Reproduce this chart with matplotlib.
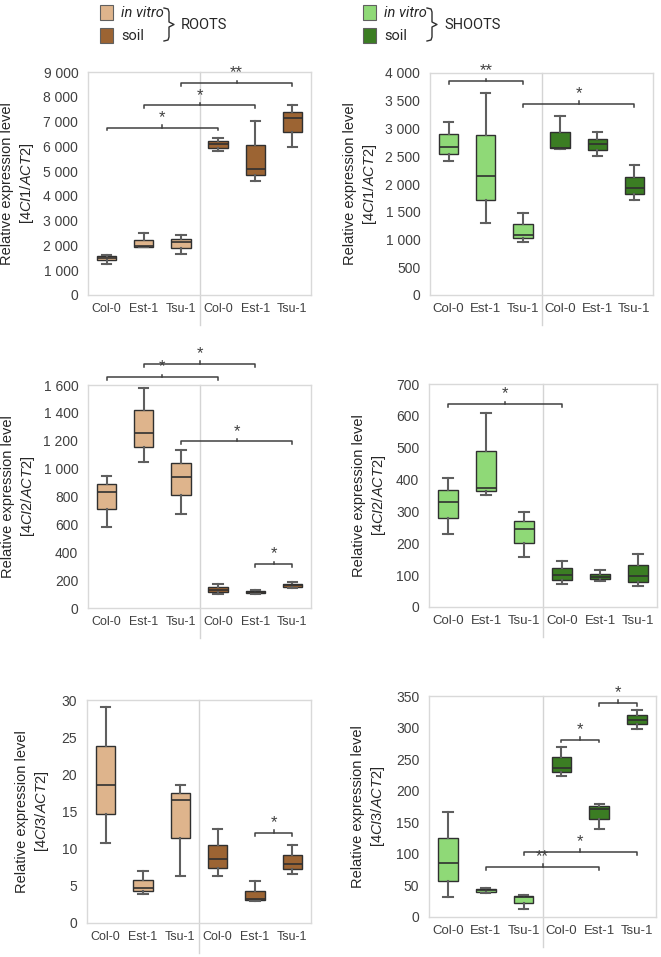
import matplotlib.pyplot as plt
from matplotlib.patches import Rectangle
from matplotlib.lines import Line2D
from matplotlib.ticker import FuncFormatter

plt.rcParams["font.family"] = ["Liberation Sans", "DejaVu Sans"]
plt.rcParams["mathtext.fontset"] = "custom"
plt.rcParams["mathtext.it"] = "Liberation Sans:italic"
plt.rcParams["mathtext.rm"] = "Liberation Sans"

W, H = 661, 957

strains = ["Col-0", "Est-1", "Tsu-1", "Col-0", "Est-1", "Tsu-1"]

# each box: whisker low, q1, median, q3, whisker high
# first three in vitro, last three soil
ci1_roots = [[1250, 1400, 1500, 1580, 1620], [1930, 1950, 1960, 2230, 2520],
             [1650, 1900, 2130, 2270, 2430], [5830, 5950, 6080, 6200, 6340],
             [4600, 4850, 5100, 6060, 7040], [5980, 6580, 7160, 7400, 7650]]
ci1_shoots = [[2420, 2545, 2675, 2895, 3115], [1300, 1710, 2140, 2890, 3640],
              [960, 1025, 1080, 1275, 1470], [2630, 2640, 2655, 2940, 3225],
              [2510, 2620, 2715, 2815, 2930], [1720, 1820, 1920, 2135, 2345]]
ci2_roots = [[583, 707, 832, 887, 944], [1049, 1152, 1255, 1420, 1580],
             [671, 808, 940, 1037, 1135], [100, 112, 130, 148, 170],
             [100, 105, 112, 120, 126], [145, 152, 162, 172, 188]]
ci2_shoots = [[228, 279, 331, 368, 406], [352, 363, 373, 490, 608],
              [156, 201, 245, 271, 297], [73, 86, 102, 123, 143],
              [82, 87, 93, 103, 115], [67, 80, 97, 132, 167]]
ci3_roots = [[10.7, 14.6, 18.5, 23.8, 29.1], [3.95, 4.27, 4.67, 5.75, 6.96],
             [6.3, 11.4, 16.5, 17.5, 18.5], [6.3, 7.4, 8.6, 10.5, 12.6],
             [3.0, 3.05, 3.2, 4.36, 5.6], [6.56, 7.2, 7.9, 9.2, 10.55]]
ci3_shoots = [[31, 57, 85.5, 125, 166], [38, 40, 42, 44, 46],
              [13, 22, 32, 33.5, 34.5], [223, 229, 236.5, 253, 269],
              [139, 155, 171, 176, 179.5], [297, 305, 312.6, 320.5, 328]]

# significance brackets: (from group, to group, height, label)
br_ci1_roots = [(1, 4, 6750, "*"), (2, 5, 7650, "*"), (3, 6, 8540, "**")]
br_ci1_shoots = [(1, 3, 3850, "**"), (3, 6, 3440, "*")]
br_ci2_roots = [(1, 4, 1655, "*"), (2, 5, 1750, "*"), (3, 6, 1195, "*"), (5, 6, 313, "*")]
br_ci2_shoots = [(1, 4, 636, "*")]
br_ci3_roots = [(5, 6, 12.1, "*")]
br_ci3_shoots = [(5, 6, 339, "*"), (4, 5, 281, "*"), (3, 6, 103, "*"), (2, 5, 79, "**")]

roots_cols = ["#deb48c", "#9c6433"]
shoots_cols = ["#8fd977", "#3b7d23"]

# data, brackets, y max, y step, gene, colours, axes box in px, ylabel offset px, x label size
panels = [
    (ci1_roots, br_ci1_roots, 9000, 1000, "4CI1", roots_cols, (88, 72, 311, 295), 70, 9),
    (ci1_shoots, br_ci1_shoots, 4000, 500, "4CI1", shoots_cols, (430, 73, 653, 295), 69, 9.5),
    (ci2_roots, br_ci2_roots, 1600, 200, "4CI2", roots_cols, (88, 385, 311, 608), 69, 9),
    (ci2_shoots, br_ci2_shoots, 700, 100, "4CI2", shoots_cols, (429, 384, 657, 607), 59, 9.5),
    (ci3_roots, br_ci3_roots, 30, 5, "4CI3", roots_cols, (87, 700, 311, 923), 54, 9),
    (ci3_shoots, br_ci3_shoots, 350, 50, "4CI3", shoots_cols, (429, 696, 656, 917), 60, 9.5),
]

fig = plt.figure(figsize=(W / 100, H / 100), dpi=100)

dark = "#303030"
gray_txt = "#404040"

for data, brackets, ymax, step, gene, cols, (l, t, r, b), yoff, xsize in panels:
    ax = fig.add_axes([l / W, 1 - b / H, (r - l) / W, (b - t) / H])
    stats = [dict(whislo=d[0], q1=d[1], med=d[2], q3=d[3], whishi=d[4], fliers=[])
             for d in data]
    bp = ax.bxp(stats, positions=range(1, 7), widths=0.52, capwidths=0.25,
                patch_artist=True, showfliers=False,
                boxprops=dict(edgecolor=dark, linewidth=1),
                whiskerprops=dict(color="#5f5f5f", linewidth=1.5),
                capprops=dict(color="#5f5f5f", linewidth=1.5),
                medianprops=dict(color=dark, linewidth=1.2))
    for i, patch in enumerate(bp["boxes"]):
        patch.set_facecolor(cols[0] if i < 3 else cols[1])

    ax.set_xlim(0.5, 6.5)
    ax.set_ylim(0, ymax)
    ax.set_yticks([v * step for v in range(int(ymax / step) + 1)])
    ax.yaxis.set_major_formatter(FuncFormatter(lambda v, p: f"{v:,.0f}".replace(",", " ")))
    ax.set_xticks(range(1, 7))
    ax.set_xticklabels(strains, fontsize=xsize)
    ax.tick_params(length=0, colors=gray_txt)
    ax.tick_params(axis="y", pad=7, labelsize=10)
    ax.tick_params(axis="x", pad=6)
    for s in ax.spines.values():
        s.set_color("#d9d9d9")
        s.set_linewidth(1)

    # divider between in vitro and soil
    ax.plot([3.5, 3.5], [ymax, -0.135 * ymax], color="#d4d4d4", lw=1, clip_on=False)

    ax.text(-yoff / (r - l), 0.5, "Relative expression level\n[$\\mathit{" + gene + "/ACT2}$]",
            transform=ax.transAxes, rotation=90, ha="center", va="center",
            fontsize=10.5, color="#262626", linespacing=1.3)

    d = ymax * 0.012
    for x1, x2, y, lab in brackets:
        xm = (x1 + x2) / 2
        ax.plot([x1, x1, x2, x2], [y - d, y, y, y - d], color="#404040", lw=1.1,
                clip_on=False)
        ax.plot([xm, xm], [y, y + d], color="#404040", lw=1.1, clip_on=False)
        ax.annotate(lab, (xm, y), xytext=(0, 2), textcoords="offset points",
                    ha="center", va="bottom", fontsize=12, color="#404040",
                    annotation_clip=False)


def px(x, y):
    return x / W, 1 - y / H


def legend(x0, cols, title, bx):
    labels = [("in vitro", "italic"), ("soil", "normal")]
    for i, (lab, style) in enumerate(labels):
        top = 5 + i * 23
        fig.patches.append(Rectangle(px(x0, top + 15), 13 / W, 15 / H,
                                     transform=fig.transFigure, facecolor=cols[i],
                                     edgecolor="#606060", lw=0.8))
        fig.text(*px(x0 + 21, top + 8), lab, style=style, fontsize=10.5,
                 family=["Roboto", "Liberation Sans"], va="center", ha="left",
                 color="#262626")
    # curly brace
    xs = [bx, bx + 4, bx + 5, bx + 5, bx + 10, bx + 5, bx + 5, bx + 4, bx]
    ys = [8, 9, 12, 22, 24.5, 27, 37, 40, 41]
    fig.add_artist(Line2D([x / W for x in xs], [1 - y / H for y in ys],
                          transform=fig.transFigure, color="#303030", lw=1))
    fig.text(*px(bx + 17, 25), title, fontsize=10.5,
             family=["Roboto", "Liberation Sans"], va="center", ha="left",
             color="#262626")


legend(100, roots_cols, "ROOTS", 164)
legend(363, shoots_cols, "SHOOTS", 427)

fig.savefig("out.png", dpi=100)
